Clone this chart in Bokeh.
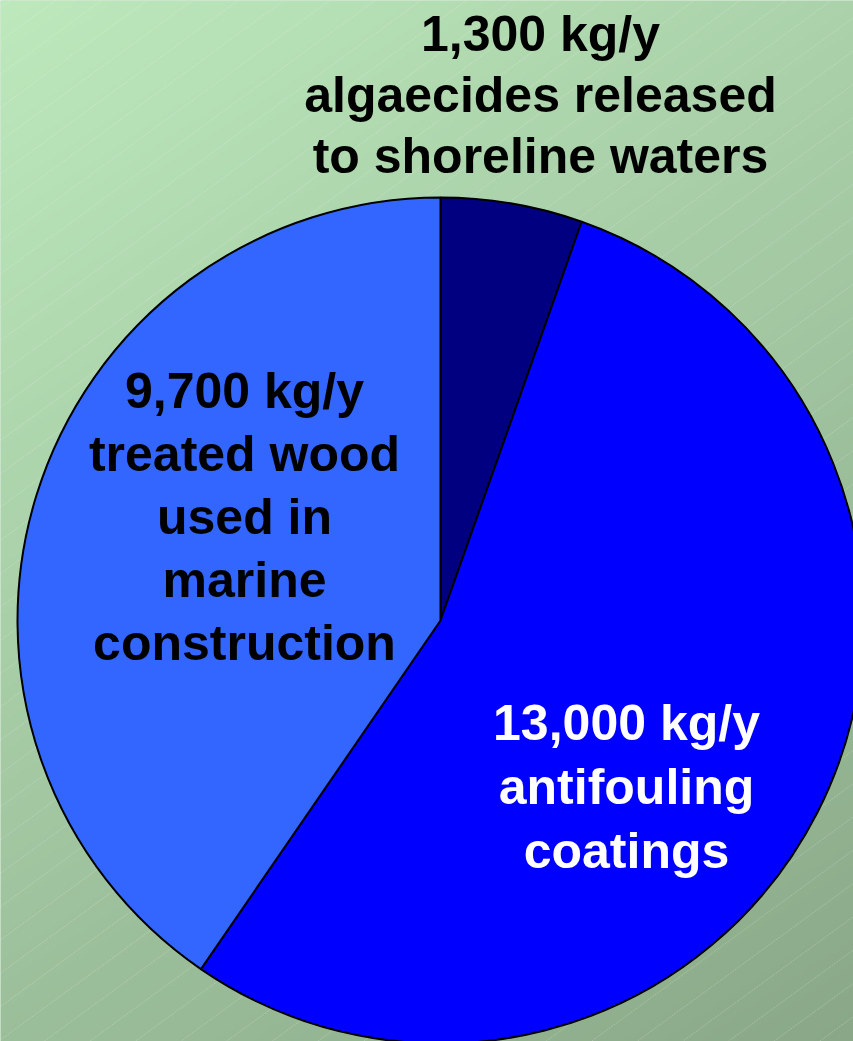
import numpy as np
from bokeh.plotting import figure
from bokeh.models import Range1d, ColumnDataSource
from bokeh.core.properties import value
from bokeh.embed import file_html
from bokeh.resources import INLINE

# ---- data ----
categories = ["algaecides released to shoreline waters",
              "antifouling coatings",
              "treated wood used in marine construction"]
amounts_kg_per_year = [1300, 13000, 9700]
slice_colors = ["#000080", "#0000FF", "#3366FF"]
label_texts = ["1,300 kg/y\nalgaecides released\nto shoreline waters",
               "13,000 kg/y\nantifouling\ncoatings",
               "9,700 kg/y\ntreated wood\nused in\nmarine\nconstruction"]
label_colors = ["black", "white", "black"]

# ---- layout (window pixel coordinates; data y = WIN_H - window y) ----
WIN_W, WIN_H = 853, 1041
cx_win, cy_win, radius = 440, 620, 423
label_anchor_win = [(540, 33), (626, 722), (244, 390)]   # first baseline
label_line_step = [61, 64, 63]

p = figure(width=WIN_W, height=WIN_H,
           x_range=Range1d(0, WIN_W), y_range=Range1d(0, WIN_H),
           x_axis_type=None, y_axis_type=None, toolbar_location=None,
           output_backend="svg", min_border=0)
p.grid.visible = False
p.outline_line_color = None
p.background_fill_color = "#a8d0a8"
p.border_fill_color = "#a8d0a8"

# background gradient
nx, ny = 214, 261
xs = np.linspace(0, WIN_W, nx)
ys_data = np.linspace(0, WIN_H, ny)
X, Yd = np.meshgrid(xs, ys_data)
Ywin = WIN_H - Yd
t = 0.35 * X / WIN_W + 0.65 * Ywin / WIN_H
tl = np.array([189, 233, 189])
br = np.array([138, 168, 136])
rgb = tl[None, None, :] + (br - tl)[None, None, :] * t[:, :, None]
img = np.empty((ny, nx), dtype=np.uint32)
view = img.view(dtype=np.uint8).reshape((ny, nx, 4))
view[:, :, 0] = rgb[:, :, 0].astype(np.uint8)
view[:, :, 1] = rgb[:, :, 1].astype(np.uint8)
view[:, :, 2] = rgb[:, :, 2].astype(np.uint8)
view[:, :, 3] = 255
p.image_rgba(image=[img], x=0, y=0, dw=WIN_W, dh=WIN_H)

# diagonal hatch lines
slope = 0.73
x0s, y0s, x1s, y1s = [], [], [], []
c = 7.0
while c < WIN_H + slope * WIN_W + 40:
    x0s.append(0); y0s.append(WIN_H - c)
    x1s.append(WIN_W); y1s.append(WIN_H - (c - slope * WIN_W))
    c += 33.3
p.segment(x0=x0s, y0=y0s, x1=x1s, y1=y1s, line_color="white",
          line_alpha=0.22, line_width=1, line_dash="2 1")

# pie
total = float(sum(amounts_kg_per_year))
cum = np.cumsum([0] + amounts_kg_per_year) / total
start = [np.pi / 2 - 2 * np.pi * cum[i] for i in range(len(amounts_kg_per_year))]
end = [np.pi / 2 - 2 * np.pi * cum[i + 1] for i in range(len(amounts_kg_per_year))]
src = ColumnDataSource(dict(cat=categories, val=amounts_kg_per_year,
                            start=start, end=end, color=slice_colors))
p.wedge(x=cx_win, y=WIN_H - cy_win, radius=radius, start_angle="start",
        end_angle="end", direction="clock", fill_color="color",
        line_color="black", line_width=2, source=src)

# labels
tx, ty, tt, tc = [], [], [], []
for lab, col, (ax, ay), step in zip(label_texts, label_colors,
                                    label_anchor_win, label_line_step):
    for i, line in enumerate(lab.split("\n")):
        tx.append(ax)
        ty.append(WIN_H - (ay + i * step))
        tt.append(line)
        tc.append(col)
p.text(x=tx, y=ty, text=tt, text_color=tc, text_font=value("Liberation Sans"),
       text_font_style="bold", text_font_size="50px", text_align="center",
       text_baseline="alphabetic")

open("out.html", "w").write(file_html(p, INLINE))
